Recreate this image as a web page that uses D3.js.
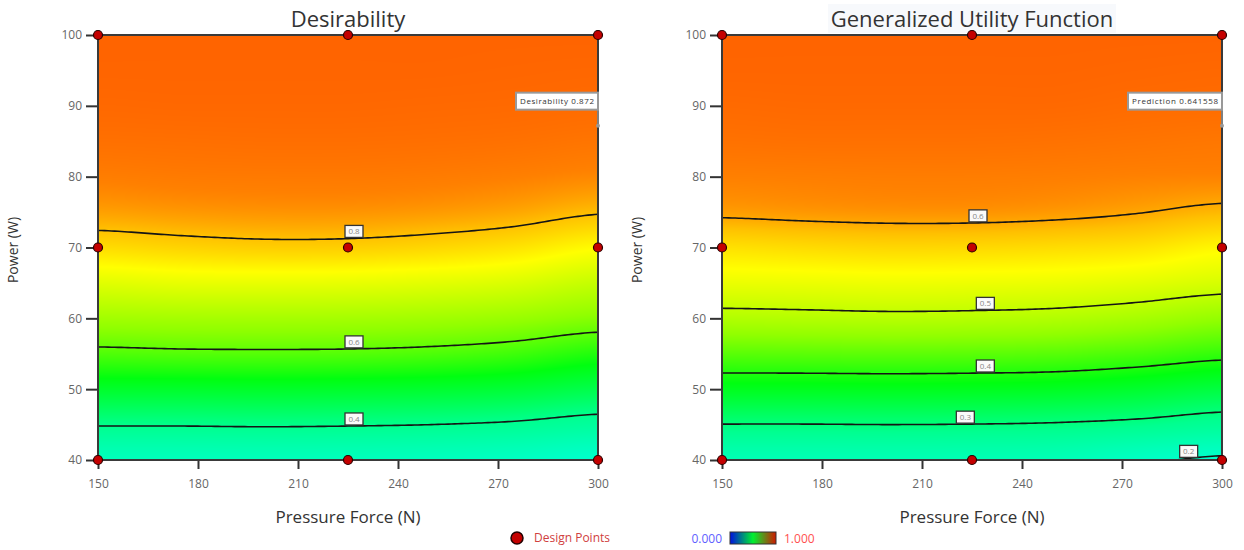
<!DOCTYPE html>
<html>
<head>
<meta charset="utf-8">
<script src="https://cdn.jsdelivr.net/npm/d3@7"></script>
<style>
  body { margin: 0; background: #fff; }
  text { font-family: "Open Sans", "Noto Sans", sans-serif; }
</style>
</head>
<body>
<script>
// Tick labels
const forceTicks = [150, 180, 210, 240, 270, 300];
const powerTicks = [40, 50, 60, 70, 80, 90, 100];

// Grid the surfaces were read on
const gridForce = [150, 175, 200, 225, 250, 275, 300];
const gridPower = [40, 45, 50, 55, 60, 65, 70, 75, 80, 85, 90, 95, 100];

// Desirability, one row per force value (power 40 -> 100)
const desirability = [
  [0.310, 0.404, 0.500, 0.586, 0.652, 0.713, 0.775, 0.822, 0.846, 0.860, 0.868, 0.872, 0.873],
  [0.310, 0.404, 0.500, 0.590, 0.655, 0.720, 0.783, 0.827, 0.849, 0.861, 0.869, 0.872, 0.873],
  [0.312, 0.406, 0.502, 0.591, 0.656, 0.721, 0.788, 0.830, 0.850, 0.862, 0.869, 0.872, 0.873],
  [0.310, 0.404, 0.500, 0.590, 0.655, 0.720, 0.787, 0.830, 0.850, 0.862, 0.869, 0.872, 0.873],
  [0.306, 0.400, 0.496, 0.585, 0.651, 0.715, 0.780, 0.826, 0.848, 0.861, 0.868, 0.872, 0.873],
  [0.297, 0.391, 0.487, 0.574, 0.643, 0.706, 0.768, 0.818, 0.844, 0.859, 0.867, 0.871, 0.873],
  [0.278, 0.372, 0.467, 0.552, 0.628, 0.686, 0.745, 0.803, 0.838, 0.855, 0.865, 0.870, 0.873]
];

// Generalized utility function, same layout
const utility = [
  [0.229, 0.299, 0.371, 0.432, 0.487, 0.529, 0.565, 0.605, 0.620, 0.631, 0.637, 0.641, 0.642],
  [0.229, 0.299, 0.371, 0.433, 0.489, 0.530, 0.569, 0.608, 0.621, 0.632, 0.638, 0.641, 0.642],
  [0.230, 0.300, 0.372, 0.434, 0.491, 0.532, 0.572, 0.610, 0.622, 0.632, 0.638, 0.641, 0.642],
  [0.229, 0.299, 0.371, 0.433, 0.490, 0.531, 0.571, 0.610, 0.622, 0.632, 0.638, 0.641, 0.642],
  [0.226, 0.296, 0.368, 0.431, 0.487, 0.529, 0.568, 0.607, 0.621, 0.631, 0.638, 0.641, 0.642],
  [0.207, 0.288, 0.359, 0.423, 0.479, 0.523, 0.563, 0.601, 0.619, 0.629, 0.636, 0.640, 0.642],
  [0.194, 0.274, 0.345, 0.411, 0.466, 0.514, 0.549, 0.592, 0.618, 0.627, 0.635, 0.639, 0.642]
];

// Contour levels and where their labels sit (force)
const desLevels = [0.4, 0.6, 0.8];
const desLabelForce = [226.8, 226.8, 226.8];
const utilLevels = [0.2, 0.3, 0.4, 0.5, 0.6];
const utilLabelForce = [290, 223, 229, 229, 226.8];

// Design points
const designForce = [150, 225, 300, 150, 225, 300, 150, 225, 300];
const designPower = [100, 100, 100, 70, 70, 70, 40, 40, 40];

// Prediction flags
const flagForce = 300;
const flagPower = 87.2;

let svg = d3.select("body")
  .append("svg")
  .attr("width", 1244)
  .attr("height", 550);

// colour ramp on normalised value
const rampStops = [0, 0.2, 0.42, 0.6, 0.78, 0.88, 0.95, 1];
const rampColors = ["#00ffcc", "#00ff90", "#00ff10", "#90ff00", "#ffff00", "#ffc000", "#ff8000", "#ff6400"];
const ramp = d3.scaleLinear().domain(rampStops).range(rampColors).clamp(true);

// Catmull-Rom between p1 and p2
function cr(p0, p1, p2, p3, t) {
  return 0.5 * (2 * p1 + (-p0 + p2) * t + (2 * p0 - 5 * p1 + 4 * p2 - p3) * t * t + (-p0 + 3 * p1 - 3 * p2 + p3) * t * t * t);
}

// one column of the grid at any force
function columnAt(grid, f) {
  let n = gridForce.length;
  let i = Math.max(0, Math.min(n - 2, Math.floor((f - gridForce[0]) / 25)));
  let t = (f - gridForce[i]) / 25;
  let c0 = grid[Math.max(0, i - 1)];
  let c1 = grid[i];
  let c2 = grid[i + 1];
  let c3 = grid[Math.min(n - 1, i + 2)];
  return gridPower.map((p, j) => cr(c0[j], c1[j], c2[j], c3[j], t));
}

function valueAt(col, p) {
  let n = gridPower.length;
  let j = Math.max(0, Math.min(n - 2, Math.floor((p - gridPower[0]) / 5)));
  let t = (p - gridPower[j]) / 5;
  return cr(col[Math.max(0, j - 1)], col[j], col[j + 1], col[Math.min(n - 1, j + 2)], t);
}

// power where a level is crossed at a given force (null if none)
function levelPower(grid, f, level) {
  let col = columnAt(grid, f);
  let prev = valueAt(col, 40);
  for (let p = 40.05; p <= 100.001; p += 0.05) {
    let v = valueAt(col, p);
    if (prev <= level && v > level) {
      return p - 0.05 + 0.05 * (level - prev) / (v - prev);
    }
    prev = v;
  }
  return null;
}

function drawPanel(opt) {
  let x = d3.scaleLinear().domain([150, 300]).range([opt.left, opt.left + 500]);
  let y = d3.scaleLinear().domain([40, 100]).range([460, 35]);
  let g = svg.append("g");

  // Coloured surface
  let vmin = d3.min(opt.grid.flat());
  let vmax = d3.max(opt.grid.flat());
  let canvas = document.createElement("canvas");
  canvas.width = 500;
  canvas.height = 425;
  let ctx = canvas.getContext("2d");
  let img = ctx.createImageData(500, 425);
  for (let px = 0; px < 500; px++) {
    let col = columnAt(opt.grid, x.invert(opt.left + px + 0.5));
    for (let py = 0; py < 425; py++) {
      let v = valueAt(col, y.invert(35 + py + 0.5));
      let c = d3.rgb(ramp((v - vmin) / (vmax - vmin)));
      let k = (py * 500 + px) * 4;
      img.data[k] = c.r;
      img.data[k + 1] = c.g;
      img.data[k + 2] = c.b;
      img.data[k + 3] = 255;
    }
  }
  ctx.putImageData(img, 0, 0);
  g.append("image")
    .attr("x", opt.left)
    .attr("y", 35)
    .attr("width", 500)
    .attr("height", 425)
    .attr("preserveAspectRatio", "none")
    .attr("href", canvas.toDataURL());

  // Contour lines
  let line = d3.line()
    .defined((d) => d[1] !== null)
    .x((d) => x(d[0]))
    .y((d) => y(d[1]));
  opt.levels.forEach((level) => {
    let pts = d3.range(150, 300.01, 1).map((f) => [f, levelPower(opt.grid, f, level)]);
    g.append("path")
      .attr("d", line(pts))
      .style("fill", "none")
      .style("stroke", "#151515")
      .style("stroke-width", 1.6);
  });

  // Contour labels
  opt.levels.forEach((level, k) => {
    let f = opt.labelForce[k];
    let cx = x(f);
    let cy = y(levelPower(opt.grid, f, level));
    g.append("rect")
      .attr("x", cx - 9)
      .attr("y", cy - 13)
      .attr("width", 18)
      .attr("height", 12)
      .style("fill", "#fafafa")
      .style("stroke", "#333")
      .style("stroke-width", 1.3);
    g.append("text")
      .attr("x", cx)
      .attr("y", cy - 4)
      .attr("text-anchor", "middle")
      .style("font-size", "8px")
      .style("fill", "#888")
      .text(d3.format(".1f")(level));
  });

  // Axes
  let xAxis = g.append("g")
    .attr("transform", "translate(0,460)")
    .call(d3.axisBottom(x).tickValues(forceTicks).tickSize(9).tickPadding(10));
  let yAxis = g.append("g")
    .attr("transform", `translate(${opt.left},0)`)
    .call(d3.axisLeft(y).tickValues(powerTicks).tickSize(12).tickPadding(4));
  [xAxis, yAxis].forEach((a) => {
    a.select(".domain").remove();
    a.selectAll(".tick line").style("stroke", "#333").style("stroke-width", 2);
    a.selectAll(".tick text")
      .style("font-size", "12px")
      .style("fill", "#666")
      .style("font-family", "'Open Sans', sans-serif");
  });

  // Frame
  g.append("rect")
    .attr("x", opt.left)
    .attr("y", 35)
    .attr("width", 500)
    .attr("height", 425)
    .style("fill", "none")
    .style("stroke", "#3a3a3a")
    .style("stroke-width", 2);

  // Title
  if (opt.titleBox) {
    g.append("rect")
      .attr("x", opt.left + 250 - 144)
      .attr("y", 4)
      .attr("width", 288)
      .attr("height", 29)
      .style("fill", "#f7f9fc");
  }
  g.append("text")
    .attr("x", opt.left + 250)
    .attr("y", 27)
    .attr("text-anchor", "middle")
    .style("font-size", "22px")
    .style("fill", "#333")
    .text(opt.title);

  // Axis titles
  g.append("text")
    .attr("x", opt.left + 250)
    .attr("y", 523)
    .attr("text-anchor", "middle")
    .style("font-size", "17px")
    .style("fill", "#333")
    .text("Pressure Force (N)");
  g.append("text")
    .attr("transform", `translate(${opt.left - 80},250) rotate(-90)`)
    .attr("text-anchor", "middle")
    .style("font-size", "14px")
    .style("fill", "#333")
    .text("Power (W)");

  // Prediction flag
  let fx = x(flagForce);
  let fy = y(flagPower);
  g.append("line")
    .attr("x1", fx)
    .attr("x2", fx)
    .attr("y1", fy - 16)
    .attr("y2", fy)
    .style("stroke", "#999")
    .style("stroke-width", 1.5);
  g.append("circle")
    .attr("cx", fx)
    .attr("cy", fy)
    .attr("r", 2)
    .style("fill", "#999");
  g.append("rect")
    .attr("x", fx - opt.flagWidth)
    .attr("y", fy - 33)
    .attr("width", opt.flagWidth)
    .attr("height", 17)
    .style("fill", "#fff")
    .style("stroke", "#999")
    .style("stroke-width", 2);
  g.append("text")
    .attr("x", fx - opt.flagWidth + 4)
    .attr("y", fy - 21.5)
    .attr("textLength", opt.flagWidth - 8)
    .attr("lengthAdjust", "spacing")
    .style("font-size", "8px")
    .style("fill", "#333")
    .text(opt.flagText);

  // Design points
  g.selectAll(".dp")
    .data(designForce)
    .enter()
    .append("circle")
    .attr("cx", (d) => x(d))
    .attr("cy", (d, i) => y(designPower[i]))
    .attr("r", 4.5)
    .style("fill", "#c40000")
    .style("stroke", "#2a0000")
    .style("stroke-width", 1.2);
}

drawPanel({
  left: 98,
  grid: desirability,
  levels: desLevels,
  labelForce: desLabelForce,
  title: "Desirability",
  titleBox: false,
  flagText: "Desirability 0.872",
  flagWidth: 82
});

drawPanel({
  left: 722,
  grid: utility,
  levels: utilLevels,
  labelForce: utilLabelForce,
  title: "Generalized Utility Function",
  titleBox: true,
  flagText: "Prediction 0.641558",
  flagWidth: 94
});

// Legend: design points
svg.append("circle")
  .attr("cx", 517)
  .attr("cy", 538)
  .attr("r", 6)
  .style("fill", "#c40000")
  .style("stroke", "#200")
  .style("stroke-width", 1.5);
svg.append("text")
  .attr("x", 534)
  .attr("y", 542)
  .style("font-size", "12px")
  .style("fill", "#d04040")
  .text("Design Points");

// Legend: colour bar
let grad = svg.append("defs")
  .append("linearGradient")
  .attr("id", "bar");
grad.append("stop").attr("offset", "0%").attr("stop-color", "#0010e0");
grad.append("stop").attr("offset", "50%").attr("stop-color", "#00f030");
grad.append("stop").attr("offset", "100%").attr("stop-color", "#d01800");
svg.append("text")
  .attr("x", 722)
  .attr("y", 543)
  .attr("text-anchor", "end")
  .style("font-size", "12px")
  .style("fill", "#6060ff")
  .text("0.000");
svg.append("rect")
  .attr("x", 730)
  .attr("y", 532)
  .attr("width", 46)
  .attr("height", 12)
  .style("fill", "url(#bar)")
  .style("stroke", "#333")
  .style("stroke-width", 1);
svg.append("text")
  .attr("x", 784)
  .attr("y", 543)
  .style("font-size", "12px")
  .style("fill", "#ff5050")
  .text("1.000");
</script>
</body>
</html>
